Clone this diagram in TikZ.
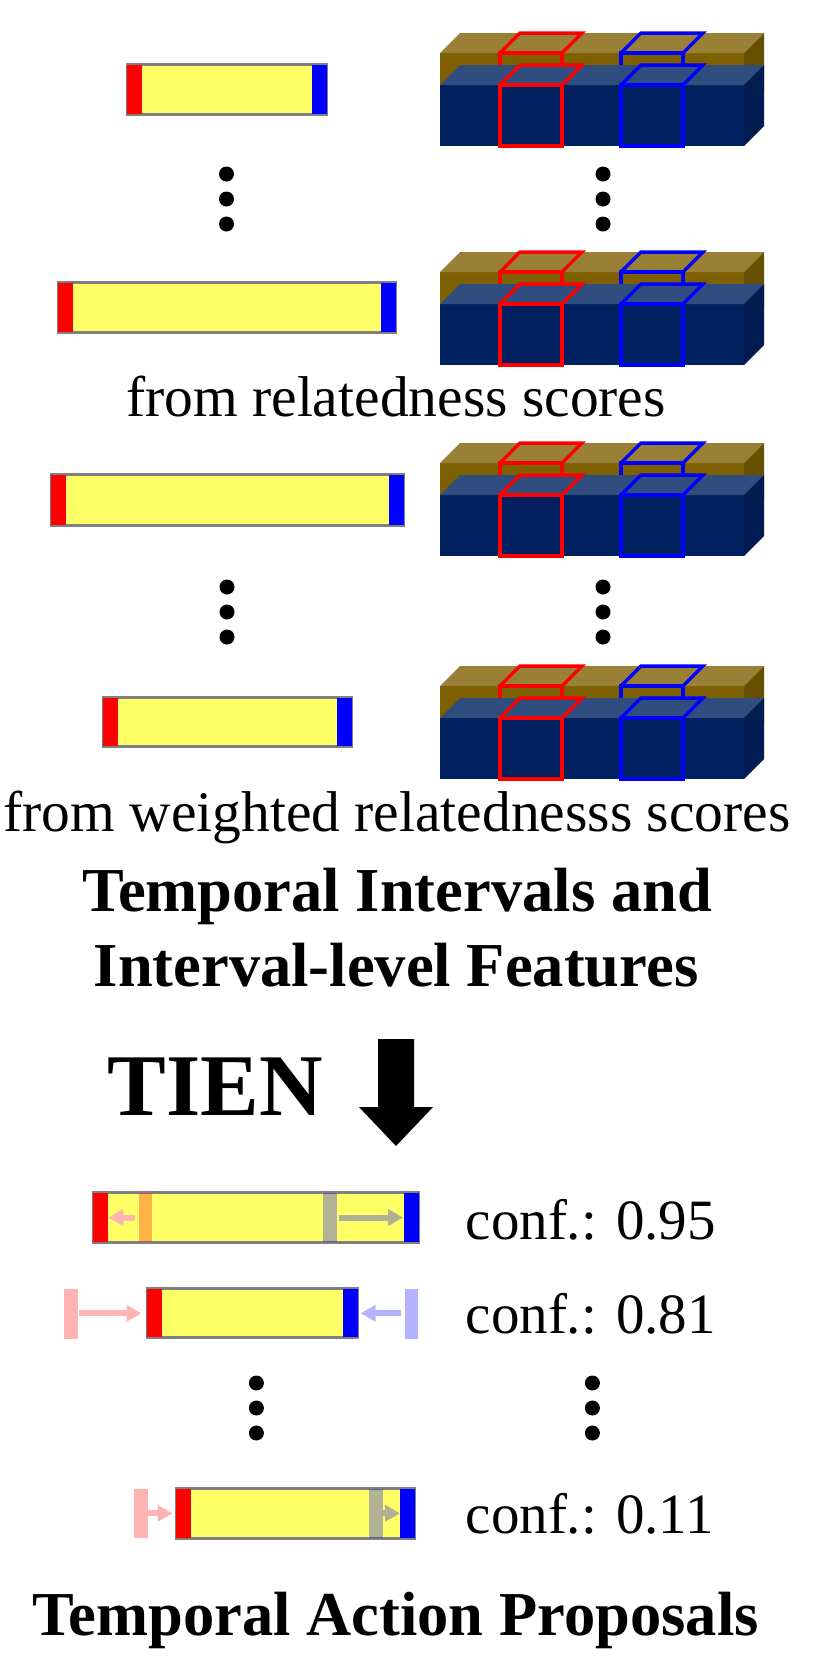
\documentclass[tikz,border=0pt]{standalone}
\usepackage{fontspec}
\setmainfont{Liberation Serif}
\usetikzlibrary{arrows.meta}
\definecolor{barfill}{HTML}{FFFF66}
\definecolor{bargray}{HTML}{808080}
\definecolor{goldtop}{HTML}{9A8036}
\definecolor{goldfront}{HTML}{7F6000}
\definecolor{goldside}{HTML}{665000}
\definecolor{bluetop}{HTML}{2F4D7E}
\definecolor{bluefront}{HTML}{002060}
\definecolor{blueside}{HTML}{001C50}
\definecolor{pinkc}{HTML}{FFB3B3}
\definecolor{lbluec}{HTML}{B3B3FF}
\definecolor{grayarrow}{HTML}{B0B094}
\tikzset{
  cubeline/.style={line width=3.5pt, line join=miter},
  txt/.style={inner sep=0pt, font=\fontsize{57.5}{60}\selectfont},
  conftxt/.style={inner sep=0pt, anchor=base west, font=\fontsize{57}{60}\selectfont},
  boldtxt/.style={inner sep=0pt, anchor=base, font=\fontsize{62.5}{66}\selectfont\bfseries},
  dot/.style={fill=black},
  shiftarrow/.style={line width=6pt, -{Triangle[length=15pt,width=16pt]}},
}
\newcommand{\intbar}[4]{%
  \fill[barfill] (#1,#2) rectangle (#3,#4);
  \draw[bargray, line width=3pt] (#1+1.5,#2+1.5) rectangle (#3-1.5,#4-1.5);
  \fill[red] (#1+1,#2+2) rectangle (#1+16,#4-2);
  \fill[blue] (#3-16,#2+2) rectangle (#3-1,#4-2);
}
\newcommand{\featblock}[1]{%
  \begin{scope}[shift={(0,#1)}]
    \fill[goldfront] (440,53) rectangle (744,110);
    \fill[goldtop] (440,53) -- (460,33) -- (764,33) -- (744,53) -- cycle;
    \fill[goldside] (744,53) -- (764,33) -- (764,90) -- (744,110) -- cycle;
    \draw[red, cubeline] (500,53) rectangle (562,85);
    \draw[red, cubeline] (500,53) -- (520,33) -- (582,33) -- (562,53);
    \draw[blue, cubeline] (621,53) rectangle (683,85);
    \draw[blue, cubeline] (621,53) -- (641,33) -- (703,33) -- (683,53);
    \fill[bluefront] (440,85) rectangle (744,146);
    \fill[bluetop] (440,85) -- (460,65) -- (764,65) -- (744,85) -- cycle;
    \fill[blueside] (744,85) -- (764,65) -- (764,126) -- (744,146) -- cycle;
    \draw[red, cubeline] (500,85) rectangle (562,146);
    \draw[red, cubeline] (500,85) -- (520,65) -- (582,65) -- (562,85);
    \draw[blue, cubeline] (621,85) rectangle (683,146);
    \draw[blue, cubeline] (621,85) -- (641,65) -- (703,65) -- (683,85);
  \end{scope}}
\begin{document}
\begin{tikzpicture}[x=1pt, y=-1pt]
\useasboundingbox (0,0) rectangle (822,1657);

% interval bars and features
\intbar{126}{63}{328}{116}
\featblock{0}
\intbar{57}{281}{397}{334}
\featblock{219}
\intbar{50}{473}{405}{527}
\featblock{410}
\intbar{102}{696}{353}{748}
\featblock{633}

% dots
\foreach \y in {174,199,224} {
  \fill[dot] (226.5,\y) circle (7.5);
  \fill[dot] (603,\y) circle (7.5);
}
\foreach \y in {587,612,637} {
  \fill[dot] (227,\y) circle (7.5);
  \fill[dot] (603,\y) circle (7.5);
}
\foreach \y in {1383,1408,1433} {
  \fill[dot] (256.4,\y) circle (7.5);
  \fill[dot] (592.4,\y) circle (7.5);
}

% captions
\node[txt, anchor=base] (cap1) at (396,416.7) {from relatedness scores};
\node[txt, anchor=base] (cap2) at (397,831.7) {from weighted relatednesss scores};
\node[boldtxt] (title1) at (397,911.7) {Temporal Intervals and};
\node[boldtxt] (title2) at (396,986.7) {Interval-level Features};
\node[inner sep=0pt, anchor=base west, font=\fontsize{88}{90}\selectfont\bfseries] (tien) at (107.5,1115) {TIEN};

% big arrow
\fill[black] (378,1039) -- (414,1039) -- (414,1107) -- (433,1107) -- (396,1146) -- (359,1107) -- (378,1107) -- cycle;

% proposal 1
\intbar{92}{1191}{420}{1244}
\fill[red, opacity=0.3] (138.5,1193) rectangle (152,1242);
\fill[blue, opacity=0.3] (323.3,1193) rectangle (336.7,1242);
\coordinate (p1a) at (135,1217.5);
\coordinate (p1b) at (108.3,1217.5);
\coordinate (p1c) at (339,1217.5);
\coordinate (p1d) at (403,1217.5);
\draw[shiftarrow, pinkc] (p1a) -- (p1b);
\draw[shiftarrow, grayarrow] (p1c) -- (p1d);
\node[conftxt] (c1) at (465.5,1239.3) {conf.: 0.95};

% proposal 2
\intbar{146}{1287}{359}{1339}
\fill[pinkc] (64,1289) rectangle (77.6,1339);
\fill[lbluec] (405,1289) rectangle (418.4,1339);
\coordinate (p2a) at (78.6,1313.3);
\coordinate (p2b) at (141.5,1313.3);
\coordinate (p2c) at (401,1313.3);
\coordinate (p2d) at (360.7,1313.3);
\draw[shiftarrow, pinkc] (p2a) -- (p2b);
\draw[shiftarrow, lbluec] (p2c) -- (p2d);
\node[conftxt] (c2) at (465.5,1333.3) {conf.: 0.81};

% proposal 3
\intbar{175}{1487}{416}{1540}
\fill[blue, opacity=0.3] (368.5,1489) rectangle (382.7,1538);
\fill[pinkc] (134,1489) rectangle (148,1538);
\coordinate (p3a) at (148.4,1513.3);
\coordinate (p3b) at (172.5,1513.3);
\coordinate (p3c) at (382.7,1513.3);
\coordinate (p3d) at (400,1513.3);
\draw[shiftarrow, pinkc] (p3a) -- (p3b);
\draw[shiftarrow, grayarrow] (p3c) -- (p3d);
\node[conftxt] (c3) at (465.5,1533.3) {conf.: 0.11};

\node[boldtxt] (title3) at (395.8,1635) {Temporal Action Proposals};
\end{tikzpicture}
\end{document}
